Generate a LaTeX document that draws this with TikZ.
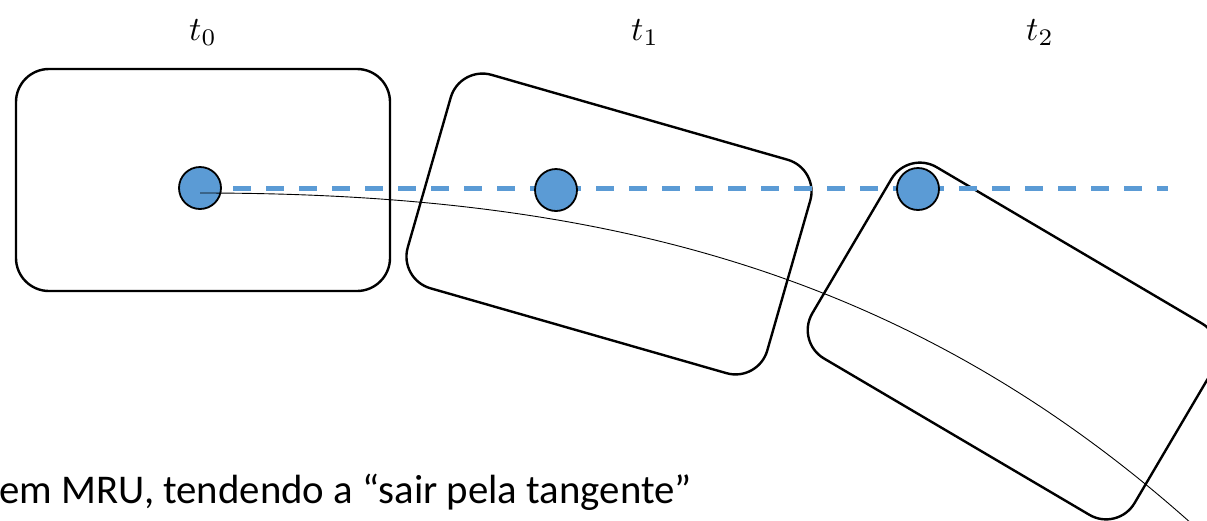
\documentclass[tikz,border=0pt]{standalone}
\usepackage{fontspec}
\setmainfont{Carlito}
\definecolor{dotblue}{HTML}{5B9BD5}
\begin{document}
\begin{tikzpicture}[x=1pt,y=-1pt,
  frame/.style={draw=black,line width=2.4pt,rounded corners=33pt,
    minimum width=374pt,minimum height=222pt,inner sep=0pt,outer sep=0pt},
  dot/.style={circle,draw=black,line width=1.8pt,fill=dotblue,
    minimum size=42pt,inner sep=0pt},
  lab/.style={anchor=base,inner sep=0pt,scale=3.4},
  path/.style={line width=5pt,draw=dotblue,dash pattern=on 18pt off 15pt},
  traj/.style={draw=black,line width=0.9pt}]
\useasboundingbox (0,0) rectangle (1207,520);
\clip (0,0) rectangle (1207,520);
% frames
\node[frame] (b0) at (203,180) {};
\node[frame,rotate=-16] (b1) at (609,224) {};
\node[frame,rotate=-30.5] (b2) at (1013,341) {};
% labels
\node[lab] (l0) at (203,40) {$t_0$};
\node[lab] (l1) at (645,40) {$t_1$};
\node[lab] (l2) at (1040,40) {$t_2$};
% straight (MRU) path
\coordinate (p0) at (200,188);
\coordinate (pend) at (1168,188);
\draw[path] (p0) -- (pend);
% dots
\node[dot] (c0) at (200,188) {};
\node[dot] (c1) at (556,190) {};
\node[dot] (c2) at (918,189) {};
% curved trajectory in rotating frame
\coordinate (s) at (200,193);
\coordinate (e) at (1215,545);
\draw[traj] (s) .. controls (600,193) and (920,270) .. (e);
% caption
\node[anchor=base west,inner sep=0pt,font=\fontsize{40.8}{48}\selectfont] (cap) at (-1,503)
  {em MRU, tendendo a “sair pela tangente”};
\end{tikzpicture}
\end{document}
